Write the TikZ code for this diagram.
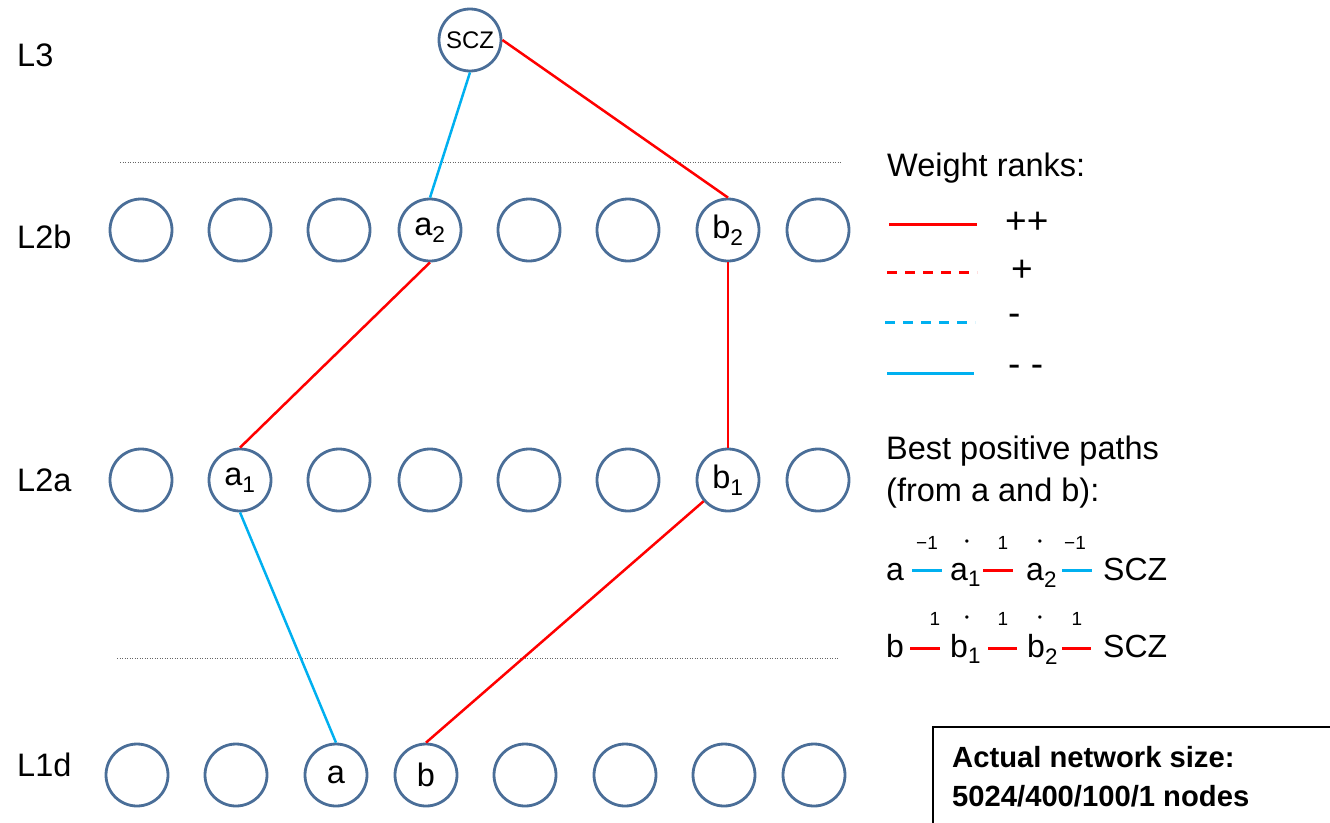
\documentclass[tikz,border=0pt]{standalone}
\usepackage{fontspec}
\setmainfont{Liberation Sans}
\usepackage{tikz}
\definecolor{unitblue}{HTML}{4A6E98}
\definecolor{posred}{HTML}{FF0000}
\definecolor{negblue}{HTML}{00B0F0}
\newcommand{\bigtxt}{\fontsize{32.5}{42}\selectfont}
\newcommand{\midtxt}{\fontsize{32}{38}\selectfont}
\newcommand{\tinytxt}{\fontsize{19}{22}\selectfont}

\begin{document}
\begin{tikzpicture}[x=1pt,y=-1pt, every node/.style={inner sep=0pt,font=\bigtxt},
 unit/.style={circle,draw=unitblue,line width=2.8pt,minimum size=62pt,fill=white},
 layer/.style={anchor=west},
 pp/.style={posred,line width=2.5pt},
 nn/.style={negblue,line width=2.5pt},
 sep/.style={line width=0.9pt,gray!80!black,dash pattern=on 1pt off 1.5pt},
 rank/.style={anchor=west,font=\fontsize{37}{42}\selectfont},
 term/.style={anchor=base west,font=\midtxt},
 wt/.style={font=\tinytxt}]
\useasboundingbox (0,0) rectangle (1330,822);
% layer names
\node[layer] (nL3) at (17,55) {L3};
\node[layer] (nL2b) at (17,237) {L2b};
\node[layer] (nL2a) at (17,480) {L2a};
\node[layer] (nL1d) at (17,765) {L1d};
% separators
\draw[sep] (120,162) -- (842,162);
\draw[sep] (117,658) -- (838,658);
% units
\node[unit,font=\fontsize{24}{28}\selectfont] (scz) at (470,40) {SCZ};
\foreach \i/\x in {1/141,2/240,3/339,5/529,6/628,8/818}
  \node[unit] (l2b\i) at (\x,230) {};
\node[unit] (a2) at (430,230) {a\textsubscript{2}};
\node[unit] (b2) at (728,230) {b\textsubscript{2}};
\foreach \i/\x in {1/141,3/339,4/430,5/529,6/628,8/818}
  \node[unit] (l2a\i) at (\x,480) {};
\node[unit] (a1) at (240,480) {a\textsubscript{1}};
\node[unit] (b1) at (728,480) {b\textsubscript{1}};
\foreach \i/\x in {1/137,2/236,5/525,6/625,7/724,8/814}
  \node[unit] (l1d\i) at (\x,775) {};
\node[unit] (a) at (336,775) {a};
\node[unit] (b) at (426,775) {b};
% best paths
\draw[nn] (scz.south) -- (a2.north);
\draw[pp] (scz.east) -- (b2.north);
\draw[pp] (a2.south) -- (a1.north);
\draw[pp] (b2.south) -- (b1.north);
\draw[nn] (a1.south) -- (a.north);
\draw[pp] (b1) -- (b.north);
% legend
\node[anchor=west] (ranks) at (887,168) {Weight ranks:};
\draw[pp,line width=3pt] (889,224) -- (977,224); \node[rank] (rk1) at (1005,223) {++};
\draw[pp,line width=3pt,dash pattern=on 10pt off 8pt] (887,272) -- (977,272); \node[rank] (rk2) at (1011,271) {+};
\draw[nn,line width=3pt,dash pattern=on 10pt off 8pt] (885,322) -- (975,322); \node[rank] (rk3) at (1008,320) {-};
\draw[nn,line width=3pt] (887,373) -- (974,373); \node[rank] (rk4) at (1008,371) {- -};
\node[anchor=north west,align=left] (best) at (886,436) {Best positive paths\\(from a and b):};
% path a
\node[term] (pa0) at (886,580) {a};
\node[term] (pa1) at (950,580) {a\textsubscript{1}};
\node[term] (pa2) at (1026,580) {a\textsubscript{2}};
\node[term] (pa3) at (1103,580) {SCZ};
\draw[nn,line width=3pt] (912,570) -- (942,570);
\draw[pp,line width=3pt] (983,570) -- (1013,570);
\draw[nn,line width=3pt] (1062,570) -- (1092,570);
\node[wt] (wa1) at (927,543) {−1};
\node[wt,font=\fontsize{12}{14}\selectfont] (da1) at (967,543) {•};
\node[wt] (wa2) at (1003,543) {1};
\node[wt,font=\fontsize{12}{14}\selectfont] (da2) at (1040,543) {•};
\node[wt] (wa3) at (1075,543) {−1};
% path b
\node[term] (pb0) at (886,657) {b};
\node[term] (pb1) at (950,657) {b\textsubscript{1}};
\node[term] (pb2) at (1027,657) {b\textsubscript{2}};
\node[term] (pb3) at (1103,657) {SCZ};
\draw[pp,line width=3pt] (910,648) -- (940,648);
\draw[pp,line width=3pt] (988,648) -- (1017,648);
\draw[pp,line width=3pt] (1062,648) -- (1091,648);
\node[wt] (wb1) at (935,619) {1};
\node[wt,font=\fontsize{12}{14}\selectfont] (db1) at (967,619) {•};
\node[wt] (wb2) at (1003,619) {1};
\node[wt,font=\fontsize{12}{14}\selectfont] (db2) at (1040,619) {•};
\node[wt] (wb3) at (1077,619) {1};
% size box
\draw[line width=1.6pt] (1332,727) -- (933,727) -- (933,824);
\node[anchor=north west,align=left,font=\fontsize{29.2}{39}\selectfont\bfseries] (size) at (952,746)
  {Actual network size:\\5024/400/100/1 nodes};
\end{tikzpicture}
\end{document}
